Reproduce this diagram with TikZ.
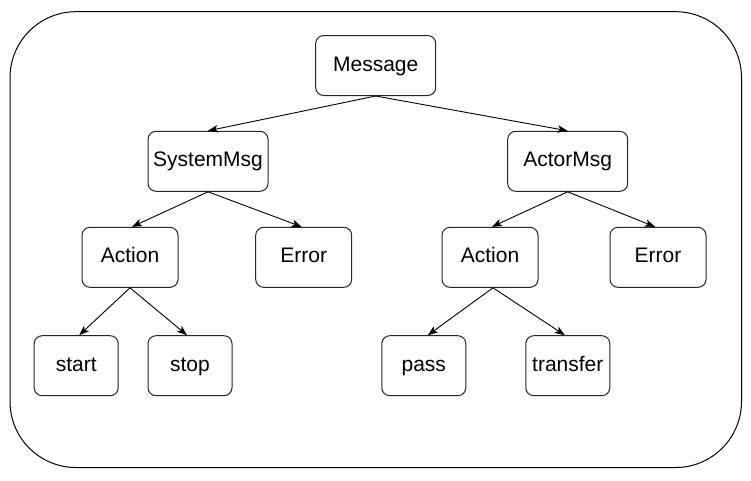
\documentclass[tikz,border=0pt]{standalone}
\usepackage{fontspec}
\setmainfont{Liberation Sans}
\usetikzlibrary{arrows.meta}
\begin{document}
\begin{tikzpicture}[x=1pt,y=-1pt,
  box/.style={draw=black!85, line width=1pt, rounded corners=8pt, fill=white,
    font=\fontsize{21}{24}\selectfont, inner sep=0pt, anchor=center,
    text height=15pt, text depth=4pt},
  bigbox/.style={box, minimum width=120pt, minimum height=60pt},
  midbox/.style={box, minimum width=96pt, minimum height=60pt},
  smallbox/.style={box, minimum width=84pt, minimum height=60pt},
  edge/.style={line width=0.9pt, -{Stealth[length=10pt,width=7.5pt,inset=2.5pt]}}]
\useasboundingbox (0,0) rectangle (751,480);
\draw[line width=1pt, rounded corners=66pt] (10,11.7) rectangle (741.5,467.5);
\node[bigbox] (msg) at (375.7,65.5) {Message};
\node[bigbox] (sys) at (208,161.3) {SystemMsg};
\node[bigbox] (act) at (567.7,161.3) {ActorMsg};
\node[midbox] (sact) at (130,257.3) {Action};
\node[midbox] (serr) at (303.7,257.3) {Error};
\node[midbox] (aact) at (490,257.3) {Action};
\node[midbox] (aerr) at (658,257.3) {Error};
\node[smallbox] (start) at (76.2,365.7) {start};
\node[smallbox] (stop) at (190,365.7) {stop};
\node[smallbox] (pass) at (423.8,365.7) {pass};
\node[smallbox] (transfer) at (567.8,365.7) {transfer};
\draw[edge] (msg.south) -- (sys.north);
\draw[edge] (msg.south) -- (act.north);
\draw[edge] (sys.south) -- ([xshift=2pt]sact.north);
\draw[edge] (sys.south) -- ([xshift=-2pt]serr.north);
\draw[edge] (act.south) -- ([xshift=2pt]aact.north);
\draw[edge] (act.south) -- ([xshift=-3pt]aerr.north);
\draw[edge] (sact.south) -- ([xshift=3pt]start.north);
\draw[edge] (sact.south) -- ([xshift=-3pt]stop.north);
\draw[edge] ([xshift=3pt]aact.south) -- ([xshift=4pt]pass.north);
\draw[edge] ([xshift=3pt]aact.south) -- ([xshift=-3pt]transfer.north);
\end{tikzpicture}
\end{document}
